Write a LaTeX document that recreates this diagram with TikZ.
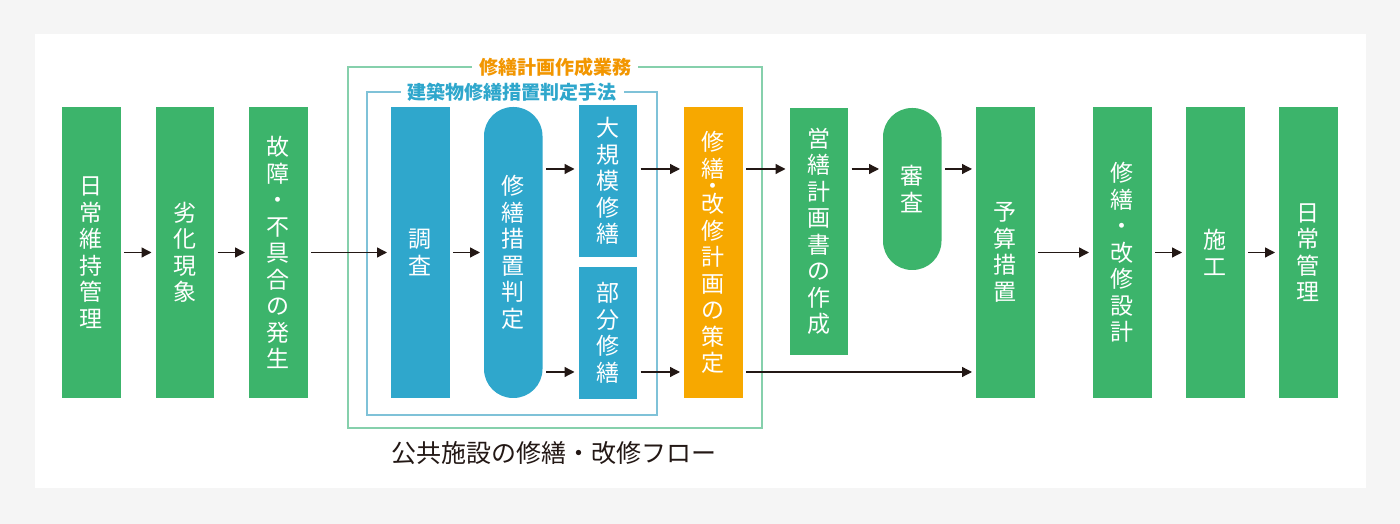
\documentclass[tikz,border=0pt]{standalone}
\usepackage{fontspec}
\setmainfont{Noto Sans CJK JP}
\usepackage{tikz}
\usetikzlibrary{arrows.meta,positioning}
\definecolor{flowgreen}{HTML}{3CB46B}
\definecolor{flowblue}{HTML}{2FA7CC}
\definecolor{floworange}{HTML}{F7A800}
\definecolor{titleorange}{HTML}{F29600}
\definecolor{framegreen}{HTML}{86D0AC}
\definecolor{frameblue}{HTML}{7FC2D8}
\definecolor{arrowdark}{HTML}{231815}
\definecolor{bggray}{HTML}{F5F5F5}
\newcommand{\boxfont}{\fontsize{23}{26.5}\selectfont}
\tikzset{
    %Define standard arrow tip
    >={Triangle[length=10pt,width=10pt]},
    %Define style for boxes
    greenrect/.style={
           rectangle,
           fill=flowgreen,
           inner sep=0pt,
           outer sep=0pt,
           minimum width=58.5pt,
           minimum height=291pt,
           text=white,
           align=center,
           font=\boxfont},
    greenpill/.style={
           greenrect,
           rounded corners=29pt},
    bluerect/.style={
           greenrect,
           fill=flowblue},
    bluepill/.style={
           bluerect,
           rounded corners=29pt},
    orangerect/.style={
           greenrect,
           fill=floworange},
    frametitle/.style={
           fill=white,
           inner xsep=7pt,
           inner ysep=2pt,
           font=\fontsize{19}{22}\selectfont\bfseries},
    % Define arrow style
    flow/.style={
           ->,
           line width=1.3pt,
           draw=arrowdark,
           shorten <=3.5pt,
           shorten >=4pt}
}
\begin{document}
\begin{tikzpicture}[x=1pt,y=1pt]
\useasboundingbox (0,0) rectangle (1400,524);
\fill[bggray] (0,0) rectangle (1400,524);
\fill[white] (35,36) rectangle (1366,490);
% frames
\draw[framegreen, line width=1.3pt] (348,96) rectangle (762,457);
\draw[frameblue, line width=1.3pt] (367,109) rectangle (657,432);
\node[frametitle, text=titleorange] (gyomu) at (555,457) {修繕計画作成業務};
\node[frametitle, text=flowblue] (shuho) at (512,432) {建築物修繕措置判定手法};
% boxes
\node[greenrect] (jouji) at (91.25,271.5) {日\\常\\維\\持\\管\\理};
\node[greenrect, right=35pt of jouji] (rekka) {劣\\化\\現\\象};
\node[greenrect, right=35pt of rekka] (kosho) {故\\障\\・\\不\\具\\合\\の\\発\\生};
\node[bluerect, right=83.5pt of kosho] (chosa) {調\\査};
\node[bluepill, right=34.5pt of chosa] (hantei) {修\\繕\\措\\置\\判\\定};
\node[bluerect, minimum height=152pt] (daikibo) at (607.75,343) {大\\規\\模\\修\\繕};
\node[bluerect, minimum height=132pt, below=10pt of daikibo] (bubun) {部\\分\\修\\繕};
\node[orangerect, right=141.5pt of hantei] (sakutei) {修\\繕\\[-9pt]・\\[-8.5pt]改\\修\\計\\画\\の\\策\\定};
\node[greenrect, minimum height=247pt] (eizen) at (818.75,292.5) {営\\繕\\計\\画\\書\\の\\作\\成};
\node[greenpill, minimum height=162pt] (shinsa) at (912.25,335) {審\\査};
\node[greenrect, right=233.5pt of sakutei] (yosan) {予\\算\\措\\置};
\node[greenrect, right=58.5pt of yosan] (sekkei) {修\\繕\\・\\改\\修\\設\\計};
\node[greenrect, right=34.5pt of sekkei] (seko) {施\\工};
\node[greenrect, right=34.5pt of seko] (nichijo) {日\\常\\管\\理};
\node[font=\fontsize{25}{30}\selectfont, text=arrowdark] (caption) at (554,71) {公共施設の修繕・改修フロー};
% arrows
\coordinate (upper) at (0,355);
\coordinate (lower) at (0,152);
\path[]
	(jouji) edge[flow] (rekka)
	(rekka) edge[flow] (kosho)
	(kosho) edge[flow] (chosa)
	(chosa) edge[flow] (hantei)
	(hantei.east |- upper) edge[flow] (daikibo.west |- upper)
	(hantei.east |- lower) edge[flow] (bubun.west |- lower)
	(daikibo.east |- upper) edge[flow] (sakutei.west |- upper)
	(bubun.east |- lower) edge[flow] (sakutei.west |- lower)
	(sakutei.east |- upper) edge[flow] (eizen.west |- upper)
	(sakutei.east |- lower) edge[flow] (yosan.west |- lower)
	(eizen.east |- upper) edge[flow] (shinsa.west |- upper)
	(shinsa.east |- upper) edge[flow] (yosan.west |- upper)
	(yosan) edge[flow] (sekkei)
	(sekkei) edge[flow] (seko)
	(seko) edge[flow] (nichijo);
\end{tikzpicture}
\end{document}
